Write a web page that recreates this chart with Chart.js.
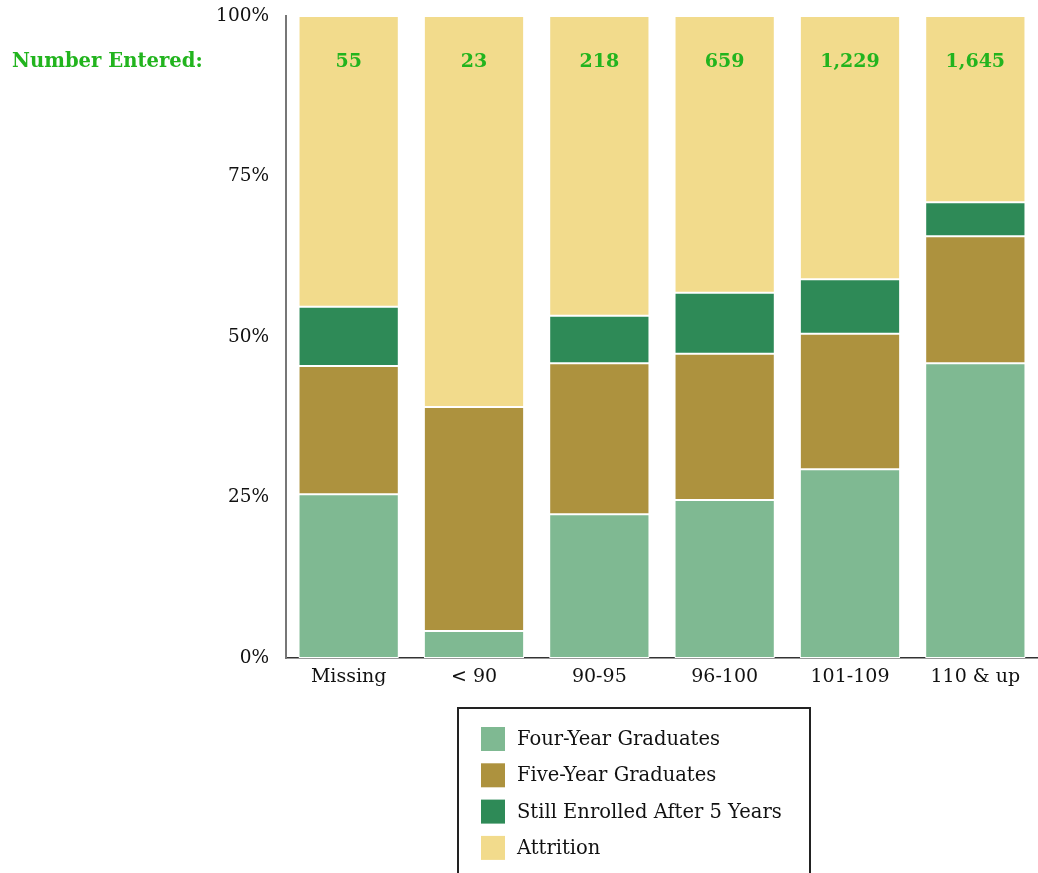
<!DOCTYPE html>
<html>
<head>
<meta charset="utf-8">
<script src="https://cdn.jsdelivr.net/npm/chart.js@4.4.0/dist/chart.umd.min.js"></script>
<style>
  html, body { margin: 0; padding: 0; background: #fff; overflow: hidden; }
  #wrap { width: 1038px; height: 873px; position: relative; }
</style>
</head>
<body>
<div id="wrap"><canvas id="c" width="1038" height="873"></canvas></div>
<script>
const categories = ["Missing", "< 90", "90-95", "96-100", "101-109", "110 & up"];
const numberEntered = [55, 23, 218, 659, 1229, 1645];
const fourYear = [25.5, 4.2, 22.4, 24.6, 29.4, 45.9];
const fiveYear = [20.0, 34.9, 23.5, 22.8, 21.1, 19.8];
const stillEnrolled = [9.2, 0.0, 7.4, 9.5, 8.5, 5.3];
const attrition = [45.3, 60.9, 46.7, 43.1, 41.0, 29.0];
const yTicks = [0, 25, 50, 75, 100];

const SERIF = "'DejaVu Serif', 'Liberation Serif', serif";
const GREEN_TEXT = "#22b41e";

const numbersPlugin = {
  id: 'numbersPlugin',
  afterDatasetsDraw(chart) {
    const ctx = chart.ctx;
    const x = chart.scales.x;
    ctx.save();
    ctx.fillStyle = GREEN_TEXT;
    ctx.font = "bold 19px " + SERIF;
    ctx.textBaseline = 'middle';
    ctx.textAlign = 'center';
    numberEntered.forEach((n, i) => {
      ctx.fillText(n.toLocaleString('en-US'), x.getPixelForValue(i), 62);
    });
    ctx.textAlign = 'left';
    ctx.font = "bold 19.6px " + SERIF;
    ctx.fillText("Number Entered:", 12, 62);
    ctx.restore();
  }
};

const legendPlugin = {
  id: 'boxLegend',
  afterDraw(chart) {
    const ctx = chart.ctx;
    ctx.save();
    ctx.strokeStyle = '#222';
    ctx.lineWidth = 2;
    ctx.strokeRect(458, 708, 352, 180);
    ctx.font = "19.5px " + SERIF;
    ctx.textBaseline = 'middle';
    ctx.textAlign = 'left';
    chart.data.datasets.forEach((ds, i) => {
      const cy = 739 + i * 36.3;
      ctx.fillStyle = ds.backgroundColor;
      ctx.fillRect(481, cy - 12, 24, 24);
      ctx.fillStyle = '#111';
      ctx.fillText(ds.label, 517, cy + 1);
    });
    ctx.restore();
  }
};

new Chart(document.getElementById('c'), {
  type: 'bar',
  data: {
    labels: categories,
    datasets: [
      { label: 'Four-Year Graduates', data: fourYear, backgroundColor: '#7fb992' },
      { label: 'Five-Year Graduates', data: fiveYear, backgroundColor: '#ad923e' },
      { label: 'Still Enrolled After 5 Years', data: stillEnrolled, backgroundColor: '#2e8a57' },
      { label: 'Attrition', data: attrition, backgroundColor: '#f2db8c' }
    ]
  },
  options: {
    responsive: false,
    animation: false,
    layout: { padding: { top: 16, left: 0, right: 0, bottom: 0 } },
    datasets: {
      bar: {
        barPercentage: 0.8,
        categoryPercentage: 1.0,
        borderColor: '#ffffff',
        borderWidth: 1,
        borderSkipped: false
      }
    },
    plugins: {
      legend: { display: false },
      tooltip: { enabled: false }
    },
    scales: {
      x: {
        stacked: true,
        grid: { display: false, drawTicks: false },
        border: { display: true, color: '#333', width: 1.5 },
        ticks: { color: '#111', font: { family: SERIF, size: 19 }, padding: 8 },
        afterFit(scale) { scale.height = 873 - 658; scale.paddingLeft = 0; scale.paddingRight = 0; }
      },
      y: {
        stacked: true,
        min: 0, max: 100,
        afterBuildTicks(scale) { scale.ticks = yTicks.map(v => ({ value: v })); },
        grid: { display: false, drawTicks: false },
        border: { display: true, color: '#777', width: 2 },
        ticks: {
          color: '#111',
          font: { family: SERIF, size: 18.5 },
          padding: 17,
          callback: v => v + '%'
        },
        afterFit(scale) { scale.width = 286; scale.paddingTop = 0; scale.paddingBottom = 0; }
      }
    }
  },
  plugins: [numbersPlugin, legendPlugin]
});
</script>
</body>
</html>
